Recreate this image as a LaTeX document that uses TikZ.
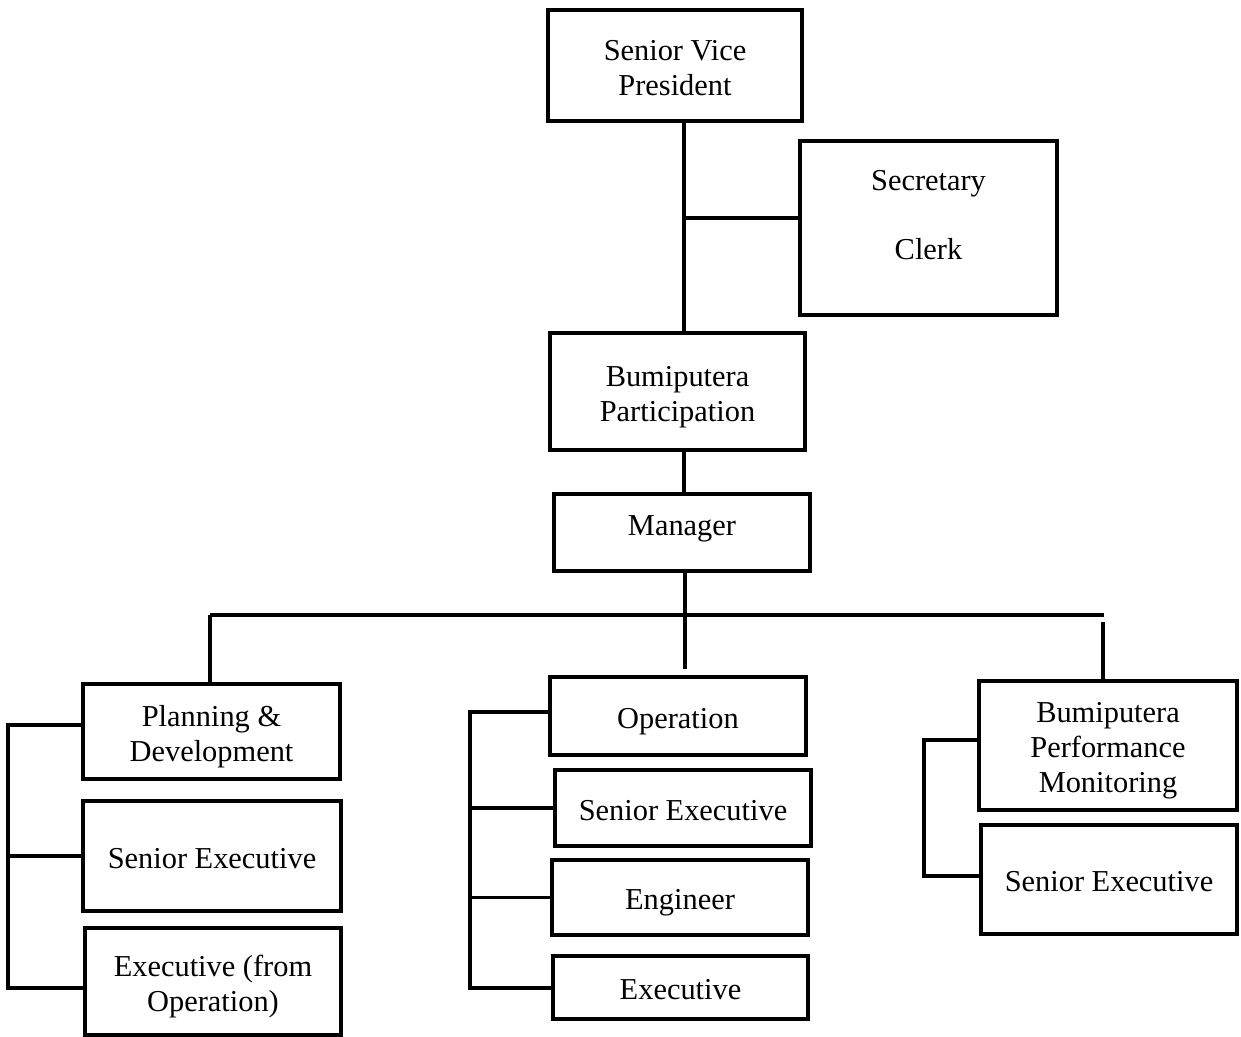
\documentclass[tikz,border=0pt]{standalone}
\usepackage{fontspec}
\setmainfont{Liberation Serif}
\newcommand\tx[2][-3pt]{\raisebox{#1}[\height][\depth]{\begin{tabular}{@{}c@{}}#2\end{tabular}}}
\begin{document}
\begin{tikzpicture}[x=0.02cm,y=-0.02cm,
  box/.style={draw, line width=1.8pt, inner sep=0pt,
    font=\fontsize{17.3}{19.8}\selectfont},
  sz/.style 2 args={minimum width=#1*0.02cm, minimum height=#2*0.02cm},
  conn/.style={line width=1.8pt}]
\useasboundingbox (0,0) rectangle (1241,1037);
% boxes
\node[box, sz={254}{111}] (svp) at (675,65.5) {\tx{Senior Vice\\President}};
\node[box, sz={257}{174}] (sec) at (928.5,228) {\tx[5.7pt]{Secretary\\[19.8pt]Clerk}};
\node[box, sz={255}{117}] (bp) at (677.5,391.5) {\tx{Bumiputera\\Participation}};
\node[box, sz={256}{77}] (mgr) at (682,532.5) {\tx[2.5pt]{Manager}};
\node[box, sz={257}{95}] (pd) at (211.5,731.5) {\tx{Planning \&\\Development}};
\node[box, sz={258}{110}] (lse) at (212,856) {\tx{Senior Executive}};
\node[box, sz={256}{107}] (exo) at (213,981.5) {\tx{Executive (from\\Operation)}};
\node[box, sz={256}{78}] (op) at (678,716) {\tx{Operation}};
\node[box, sz={256}{76}] (mse) at (683,808) {\tx{Senior Executive}};
\node[box, sz={256}{75}] (eng) at (680,897.5) {\tx{Engineer}};
\node[box, sz={255}{63}] (mex) at (680.5,987.5) {\tx{Executive}};
\node[box, sz={258}{129}] (bpm) at (1108,745.5) {\tx{Bumiputera\\Performance\\Monitoring}};
\node[box, sz={256}{109}] (rse) at (1109,879.5) {\tx{Senior Executive}};
% coordinates
\coordinate (trunk) at (684,0);
\coordinate (j1) at (684,218);
\coordinate (m1) at (685,669);
\coordinate (hl) at (210,615);
\coordinate (hr) at (1104,615);
\coordinate (rv) at (1103,622);
\coordinate (lb1) at (8,725);
\coordinate (lb3) at (8,988);
\coordinate (mb1) at (470,712);
\coordinate (mb4) at (470,988);
\coordinate (rb1) at (924,740);
\coordinate (rb2) at (924,876);
% connectors
\draw[conn] (svp.south -| trunk) -- (bp.north -| trunk);
\draw[conn] (j1) -- (j1 -| sec.west);
\draw[conn] (bp.south -| trunk) -- (mgr.north -| trunk);
\draw[conn] (mgr.south -| m1) -- (m1);
\draw[conn] (hl) -- (hr);
\draw[conn] (hl) -- (hl |- pd.north);
\draw[conn] (rv) -- (rv |- bpm.north);
\draw[conn] (pd.west |- lb1) -- (lb1) -- (lb3) -- (lb3 -| exo.west);
\draw[conn] (lb1 |- lse.west) -- (lse.west);
\draw[conn] (op.west |- mb1) -- (mb1) -- (mb4) -- (mb4 -| mex.west);
\draw[conn] (mb1 |- mse.west) -- (mse.west);
\draw[conn] (mb1 |- eng.west) -- (eng.west);
\draw[conn] (bpm.west |- rb1) -- (rb1) -- (rb2) -- (rb2 -| rse.west);
\end{tikzpicture}
\end{document}
